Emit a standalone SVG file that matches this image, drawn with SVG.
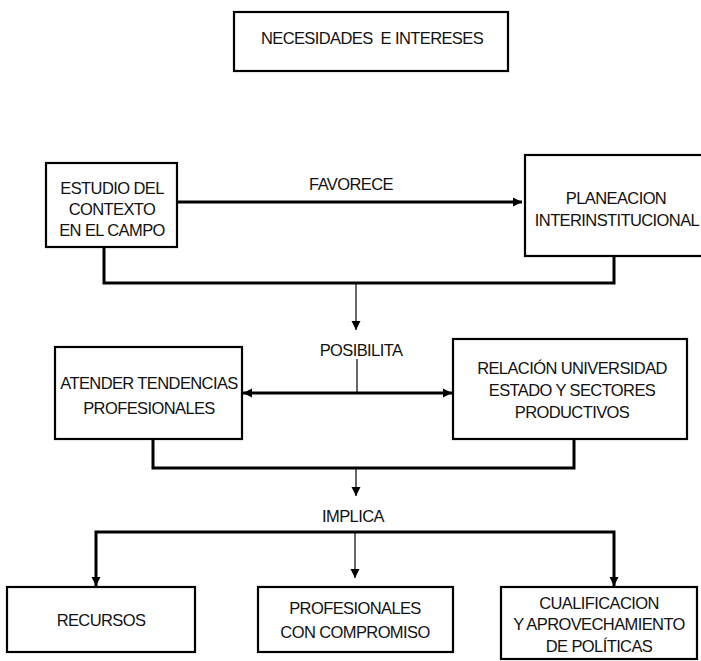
<svg xmlns="http://www.w3.org/2000/svg" width="701" height="661" viewBox="0 0 701 661">
  <style>
    .box { fill: #ffffff; stroke: #000000; stroke-width: 2.2; }
    .lbl { font-family: "Liberation Sans", Arial, sans-serif; font-size: 16.5px; letter-spacing: -0.6px; fill: #111111; text-anchor: middle; }
    .thick { fill: none; stroke: #000000; stroke-width: 3; }
    .thin { fill: none; stroke: #000000; stroke-width: 1.2; }
  </style>
  <defs>
    <marker id="arrow" viewBox="0 0 10 10" refX="10" refY="5" markerWidth="9" markerHeight="10" markerUnits="userSpaceOnUse" orient="auto-start-reverse">
      <path d="M0,0 L10,5 L0,10 z" fill="#000000"/>
    </marker>
  </defs>
  <rect width="701" height="661" fill="#ffffff"/>

  <g id="connectors">
    <!-- favorece -->
    <line class="thick" x1="177" y1="202" x2="522" y2="202" marker-end="url(#arrow)"/>
    <!-- upper bracket -->
    <polyline class="thick" points="104,247 104,283 614,283 614,256"/>
    <line class="thin" x1="356" y1="283" x2="356" y2="330" marker-end="url(#arrow)"/>
    <line class="thin" x1="357" y1="359" x2="357" y2="393"/>
    <!-- two-way link -->
    <line class="thick" x1="243" y1="393" x2="452" y2="393" marker-start="url(#arrow)" marker-end="url(#arrow)"/>
    <!-- lower bracket -->
    <polyline class="thick" points="153,439 153,468 574,468 574,439"/>
    <line class="thin" x1="356" y1="468" x2="356" y2="496" marker-end="url(#arrow)"/>
    <!-- implica branches -->
    <polyline class="thick" points="96,586 96,532 614,532 614,586" marker-start="url(#arrow)" marker-end="url(#arrow)"/>
    <line class="thin" x1="355" y1="532" x2="355" y2="578" marker-end="url(#arrow)"/>
  </g>

  <g id="necesidades">
    <rect class="box" x="234" y="12" width="274" height="59"/>
    <text class="lbl" x="372" y="44" xml:space="preserve">NECESIDADES  E INTERESES</text>
  </g>

  <g id="estudio">
    <rect class="box" x="46" y="163" width="131" height="84"/>
    <text class="lbl" x="112" y="194">ESTUDIO DEL</text>
    <text class="lbl" x="112" y="215">CONTEXTO</text>
    <text class="lbl" x="112" y="236">EN EL CAMPO</text>
  </g>

  <g id="planeacion">
    <rect class="box" x="525" y="155" width="185" height="101"/>
    <text class="lbl" x="616" y="204">PLANEACION</text>
    <text class="lbl" x="617" y="226">INTERINSTITUCIONAL</text>
  </g>

  <text class="lbl" x="351" y="190">FAVORECE</text>
  <text class="lbl" x="361" y="356">POSIBILITA</text>

  <g id="atender">
    <rect class="box" x="55" y="347" width="187" height="92"/>
    <text class="lbl" x="149" y="389">ATENDER TENDENCIAS</text>
    <text class="lbl" x="149" y="414">PROFESIONALES</text>
  </g>

  <g id="relacion">
    <rect class="box" x="453" y="339" width="234" height="100"/>
    <text class="lbl" x="572" y="374">RELACIÓN UNIVERSIDAD</text>
    <text class="lbl" x="572" y="396">ESTADO Y SECTORES</text>
    <text class="lbl" x="572" y="418">PRODUCTIVOS</text>
  </g>

  <text class="lbl" x="353" y="522">IMPLICA</text>

  <g id="recursos">
    <rect class="box" x="7" y="587" width="188" height="65"/>
    <text class="lbl" x="101" y="626">RECURSOS</text>
  </g>

  <g id="profesionales">
    <rect class="box" x="258" y="587" width="195" height="65"/>
    <text class="lbl" x="355" y="614">PROFESIONALES</text>
    <text class="lbl" x="355" y="638">CON COMPROMISO</text>
  </g>

  <g id="cualificacion">
    <rect class="box" x="501" y="587" width="196" height="72"/>
    <text class="lbl" x="599" y="609">CUALIFICACION</text>
    <text class="lbl" x="599" y="630">Y APROVECHAMIENTO</text>
    <text class="lbl" x="599" y="652">DE POLÍTICAS</text>
  </g>
</svg>
